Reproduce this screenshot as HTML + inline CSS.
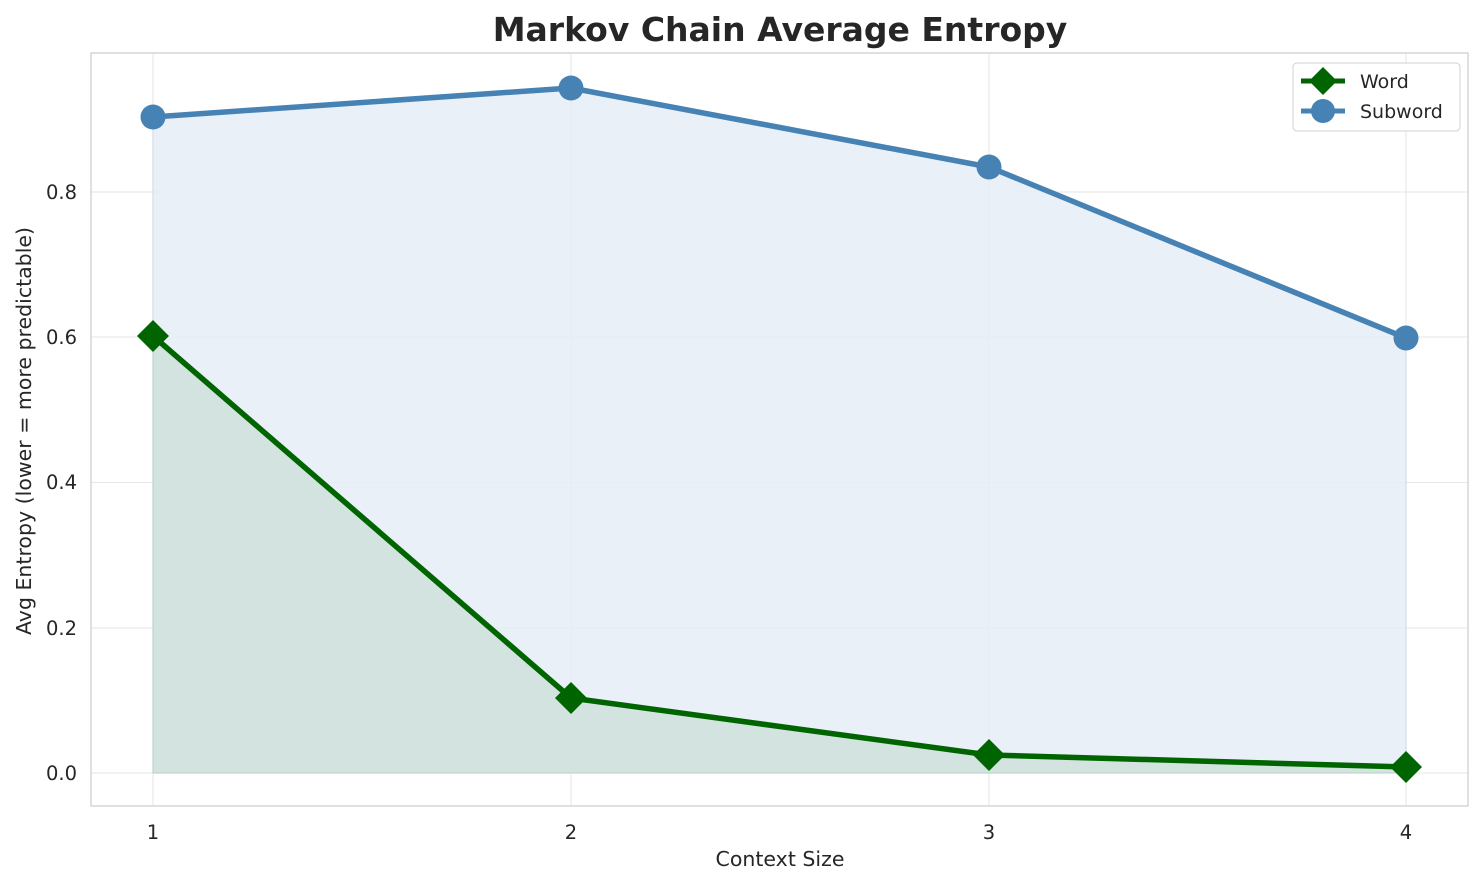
<!DOCTYPE html>
<html><head><style>body{margin:0;background:#fff}svg{display:block}</style></head><body>
<svg width="1484" height="885" xmlns="http://www.w3.org/2000/svg" font-family="DejaVu Sans, Liberation Sans, sans-serif">
<rect width="1484" height="885" fill="#fff"/>
<g stroke="#e6e6e6" stroke-width="1">
<line x1="153" y1="53" x2="153" y2="806"/><line x1="571" y1="53" x2="571" y2="806"/><line x1="989" y1="53" x2="989" y2="806"/><line x1="1406" y1="53" x2="1406" y2="806"/>
<line x1="91" y1="773" x2="1468" y2="773"/><line x1="91" y1="628" x2="1468" y2="628"/><line x1="91" y1="482.5" x2="1468" y2="482.5"/><line x1="91" y1="337" x2="1468" y2="337"/><line x1="91" y1="192" x2="1468" y2="192"/>
</g>
<polygon points="153,117 571,88 989,167 1406,338 1406,773 153,773" fill="#e6edf7" fill-opacity="0.85" stroke="#4a7dc4" stroke-opacity="0.15"/>
<polygon points="153,336 571,698 989,755 1406,767 1406,773 153,773" fill="#d3e3df" stroke="#a9c4ba" stroke-opacity="0.6"/>
<rect x="91" y="53" width="1377" height="753" fill="none" stroke="#cccccc" stroke-width="1.2"/>
<polyline points="153,117 571,88 989,167 1406,338" fill="none" stroke="#4682b4" stroke-width="5.5" stroke-linejoin="round"/>
<g fill="#4682b4"><circle cx="153" cy="117" r="12.5"/><circle cx="571" cy="88" r="12.5"/><circle cx="989" cy="167" r="12.5"/><circle cx="1406" cy="338" r="12.5"/></g>
<polyline points="153,336 571,698 989,755 1406,767" fill="none" stroke="#006400" stroke-width="5.5" stroke-linejoin="round"/>
<g fill="#006400">
<polygon points="153,320 169,336 153,352 137,336"/><polygon points="571,682 587,698 571,714 555,698"/><polygon points="989,739 1005,755 989,771 973,755"/><polygon points="1406,751 1422,767 1406,783 1390,767"/>
</g>
<g font-size="19.5" fill="#262626" text-anchor="middle">
<text x="153" y="839">1</text><text x="571" y="839">2</text><text x="989" y="839">3</text><text x="1406" y="839">4</text>
</g>
<g font-size="19.5" fill="#262626" text-anchor="end">
<text x="77" y="780">0.0</text><text x="77" y="635">0.2</text><text x="77" y="489">0.4</text><text x="77" y="344">0.6</text><text x="77" y="199">0.8</text>
</g>
<text x="780" y="866" font-size="20.5" fill="#262626" text-anchor="middle">Context Size</text>
<text transform="translate(31,431) rotate(-90)" font-size="20.5" fill="#262626" text-anchor="middle">Avg Entropy (lower = more predictable)</text>
<text x="780" y="41" font-size="33" font-weight="bold" fill="#262626" text-anchor="middle">Markov Chain Average Entropy</text>
<rect x="1293" y="63" width="167" height="68" rx="4" fill="#fff" fill-opacity="0.85" stroke="#d0d0d0"/>
<line x1="1301" y1="81" x2="1345" y2="81" stroke="#006400" stroke-width="5"/>
<polygon points="1323,67 1337,81 1323,95 1309,81" fill="#006400"/>
<line x1="1301" y1="111" x2="1345" y2="111" stroke="#4682b4" stroke-width="5"/>
<circle cx="1323" cy="111" r="12" fill="#4682b4"/>
<text x="1360" y="88" font-size="19" fill="#262626">Word</text>
<text x="1360" y="118" font-size="19" fill="#262626">Subword</text>
</svg>
</body></html>
